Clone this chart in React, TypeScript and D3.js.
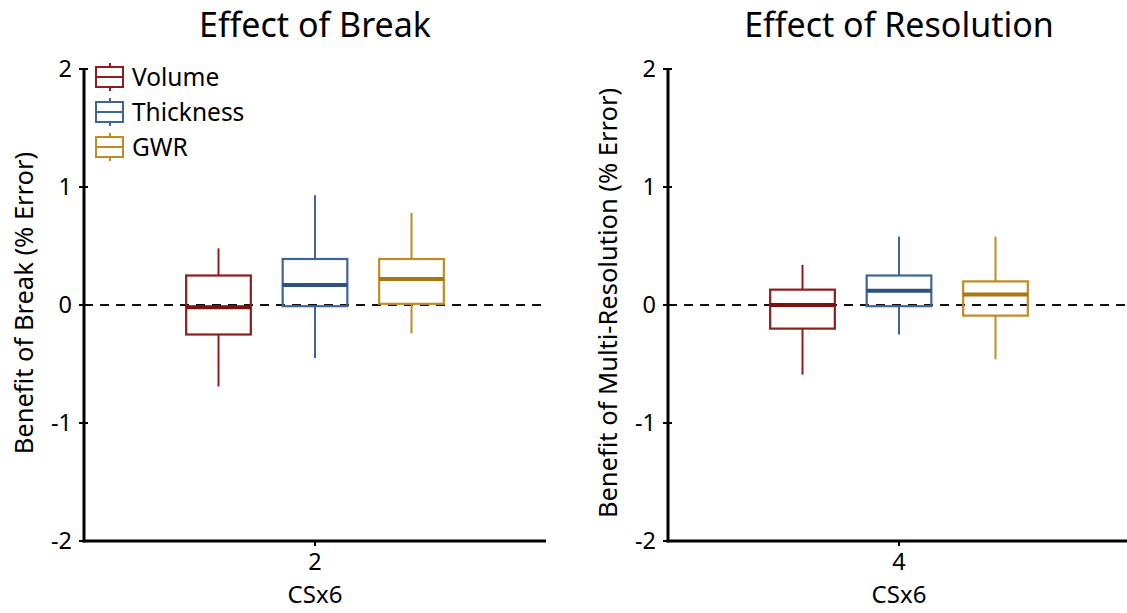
import * as d3 from "d3";

const series = ["Volume", "Thickness", "GWR"];
const colors = ["#8e1d1b", "#3f6594", "#c08b22"];
const medianColors = ["#7a1210", "#2c5182", "#a9760f"];

// [whiskerLow, q1, median, q3, whiskerHigh] per series
const breakStats = [
  [-0.69, -0.25, -0.02, 0.25, 0.48],
  [-0.45, -0.01, 0.17, 0.39, 0.93],
  [-0.24, 0.01, 0.22, 0.39, 0.78],
];
const resolutionStats = [
  [-0.59, -0.2, 0.0, 0.13, 0.34],
  [-0.25, -0.01, 0.12, 0.25, 0.58],
  [-0.46, -0.09, 0.09, 0.2, 0.58],
];
const yTicks = [-2, -1, 0, 1, 2];

const font = "'Noto Sans', sans-serif";

type PanelProps = {
  left: number;
  width: number;
  title: string;
  yLabel: string;
  xValue: number;
  stats: number[][];
  legend?: boolean;
};

function Panel({ left, width, title, yLabel, xValue, stats, legend }: PanelProps) {
  const top = 69;
  const bottom = 541;
  const y = d3.scaleLinear().domain([-2, 2]).range([bottom, top]);
  const x = d3.scaleLinear().domain([xValue - 0.5, xValue + 0.5]).range([left, left + width]);
  const c = x(xValue);
  const step = 96.5;
  const band = d3
    .scaleBand<string>()
    .domain(series)
    .range([c - 1.5 * step, c + 1.5 * step])
    .paddingInner(0.33)
    .paddingOuter(0.165);
  const bw = band.bandwidth();

  return (
    <g fontFamily={font}>
      <text x={c} y={37} textAnchor="middle" fontSize={34}>
        {title}
      </text>
      {/* zero reference */}
      <line
        x1={left}
        x2={left + width}
        y1={y(0)}
        y2={y(0)}
        stroke="#111"
        strokeWidth={2.2}
        strokeDasharray="9,7"
      />
      {stats.map((s, i) => {
        const name = series[i];
        const bx = band(name)!;
        const mx = bx + bw / 2;
        return (
          <g key={name}>
            <line x1={mx} x2={mx} y1={y(s[4])} y2={y(s[3])} stroke={colors[i]} strokeWidth={2} />
            <line x1={mx} x2={mx} y1={y(s[1])} y2={y(s[0])} stroke={colors[i]} strokeWidth={2} />
            <rect
              x={bx}
              y={y(s[3])}
              width={bw}
              height={y(s[1]) - y(s[3])}
              fill="none"
              stroke={colors[i]}
              strokeWidth={2.2}
            />
            <line x1={bx} x2={bx + bw} y1={y(s[2])} y2={y(s[2])} stroke={medianColors[i]} strokeWidth={4} />
          </g>
        );
      })}
      {/* axes */}
      <line x1={left} x2={left} y1={top - 1} y2={bottom + 1.5} stroke="#000" strokeWidth={3} />
      <line x1={left - 1.5} x2={left + width} y1={bottom} y2={bottom} stroke="#000" strokeWidth={3} />
      {yTicks.map((t) => (
        <g key={t}>
          <line x1={left - 5} x2={left + 4} y1={y(t)} y2={y(t)} stroke="#000" strokeWidth={2} />
          <text x={left - 12} y={y(t)} dy="0.36em" textAnchor="end" fontSize={23.5}>
            {t}
          </text>
        </g>
      ))}
      <line x1={c} x2={c} y1={bottom} y2={bottom + 5} stroke="#000" strokeWidth={2} />
      <text x={c} y={bottom + 12} dy="0.72em" textAnchor="middle" fontSize={23.5}>
        {xValue}
      </text>
      <text x={c} y={bottom + 53} dy="0.36em" textAnchor="middle" fontSize={24}>
        CSx6
      </text>
      <text
        transform={`translate(${left - 60},${(top + bottom) / 2 - 2}) rotate(-90)`}
        textAnchor="middle"
        dy="0.36em"
        fontSize={25.5}
      >
        {yLabel}
      </text>
      {legend &&
        series.map((name, i) => {
          const ly = 77 + i * 35;
          const lx = left + 12;
          return (
            <g key={name}>
              <line x1={lx + 14} x2={lx + 14} y1={ly - 14} y2={ly + 14} stroke={colors[i]} strokeWidth={2} />
              <rect x={lx} y={ly - 10} width={27} height={20} fill="#fff" stroke={colors[i]} strokeWidth={2} />
              <line x1={lx} x2={lx + 27} y1={ly} y2={ly} stroke={colors[i]} strokeWidth={2} />
              <text x={lx + 36} y={ly} dy="0.36em" fontSize={24.5}>
                {name}
              </text>
            </g>
          );
        })}
    </g>
  );
}

export default function App() {
  return (
    <svg
      width={1127}
      height={613}
      style={{ position: "absolute", left: 0, top: 0, background: "#fff" }}
    >
      <Panel
        left={84}
        width={462}
        title="Effect of Break"
        yLabel="Benefit of Break (% Error)"
        xValue={2}
        stats={breakStats}
        legend
      />
      <Panel
        left={668}
        width={462}
        title="Effect of Resolution"
        yLabel="Benefit of Multi-Resolution (% Error)"
        xValue={4}
        stats={resolutionStats}
      />
    </svg>
  );
}
